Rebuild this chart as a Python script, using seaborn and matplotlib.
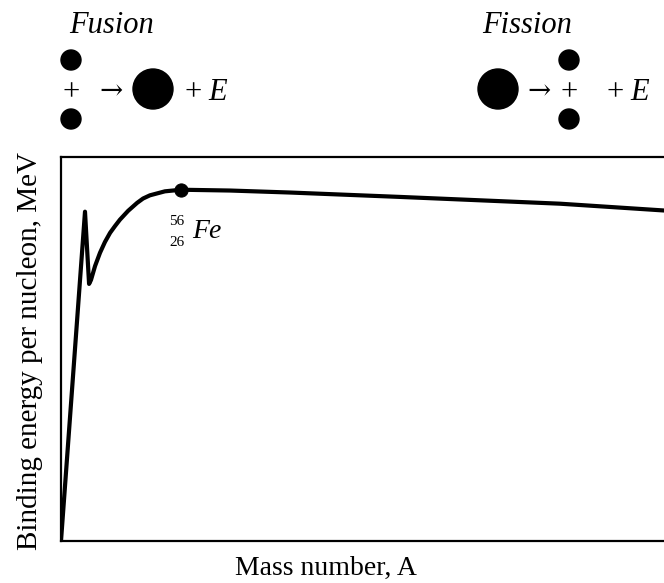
import numpy as np
import pandas as pd
import matplotlib.pyplot as plt
from matplotlib.patches import Circle
import seaborn as sns

# binding energy curve
mass_number = [0, 11.2, 13.1, 14.0, 15.9, 18.2, 20.5, 22.9, 25.2, 27.5, 31.3,
               35.5, 38.3, 41.5, 48.5, 56, 78.9, 106.9, 158.2, 232.9, 281.4]
binding_energy = [0, 8.25, 6.44, 6.54, 6.89, 7.22, 7.49, 7.72, 7.89, 8.05, 8.27,
                  8.47, 8.58, 8.66, 8.76, 8.80, 8.78, 8.73, 8.62, 8.45, 8.28]
fe_point = {"A": [56], "BE": [8.80]}

df = pd.DataFrame({"A": mass_number, "BE": binding_energy})

sns.set_style("white")
plt.rcParams["font.family"] = ["Liberation Serif", "DejaVu Serif"]
plt.rcParams["text.color"] = "black"

fig = plt.figure(figsize=(6.64, 5.83), dpi=100)
W, H = 664, 583
ax = fig.add_axes([61 / W, (H - 541) / H, 609 / W, 384 / H])

sns.lineplot(data=df, x="A", y="BE", ax=ax, color="black", lw=3,
             estimator=None, sort=False, solid_joinstyle="round")
sns.scatterplot(data=pd.DataFrame(fe_point), x="A", y="BE", ax=ax,
                color="black", s=90, zorder=5, edgecolor="black")

ax.set_xlim(0, 284.2)
ax.set_ylim(0, 9.62)
ax.set_xticks([])
ax.set_yticks([])
ax.set_xlabel("")
ax.set_ylabel("")
for side in ["left", "top", "bottom"]:
    ax.spines[side].set_color("black")
    ax.spines[side].set_linewidth(1.6)
ax.spines["right"].set_visible(False)

# overlay in pixel coordinates for the annotations
ov = fig.add_axes([0, 0, 1, 1], zorder=10)
ov.set_xlim(0, W)
ov.set_ylim(H, 0)
ov.axis("off")
ov.patch.set_alpha(0)

big = 22
arrow_kw = dict(fontsize=20, family="DejaVu Serif", ha="center", va="center")
ov.text(112, 33, "Fusion", fontsize=big, style="italic", ha="center", va="baseline")
ov.text(527, 33, "Fission", fontsize=big, style="italic", ha="center", va="baseline")

# fusion: two small -> one big
ov.add_patch(Circle((71, 60), 10, color="black"))
ov.add_patch(Circle((71, 119), 10, color="black"))
ov.text(71, 100, "+", fontsize=big, ha="center", va="baseline")
ov.text(111, 92, "\u2192", **arrow_kw)
ov.add_patch(Circle((153, 89), 20, color="black"))
ov.text(185, 100, "+", fontsize=big, ha="left", va="baseline")
ov.text(208, 100, "E", fontsize=big, style="italic", ha="left", va="baseline")

# fission: one big -> two small
ov.add_patch(Circle((498, 89), 20, color="black"))
ov.text(539, 92, "\u2192", **arrow_kw)
ov.add_patch(Circle((569, 60), 10, color="black"))
ov.add_patch(Circle((569, 119), 10, color="black"))
ov.text(569, 100, "+", fontsize=big, ha="center", va="baseline")
ov.text(607, 100, "+", fontsize=big, ha="left", va="baseline")
ov.text(630, 100, "E", fontsize=big, style="italic", ha="left", va="baseline")

# iron label
ov.text(177, 225, "56", fontsize=11, ha="center", va="baseline")
ov.text(177, 246, "26", fontsize=11, ha="center", va="baseline")
ov.text(192, 238, "Fe", fontsize=20, style="italic", ha="left", va="baseline")

# axis titles
ov.text(326, 575, "Mass number, A", fontsize=20, ha="center", va="baseline")
ov.text(30, 351, "Binding energy per nucleon, MeV", fontsize=21,
        rotation=90, ha="center", va="center")

fig.savefig("out.png", dpi=100)
